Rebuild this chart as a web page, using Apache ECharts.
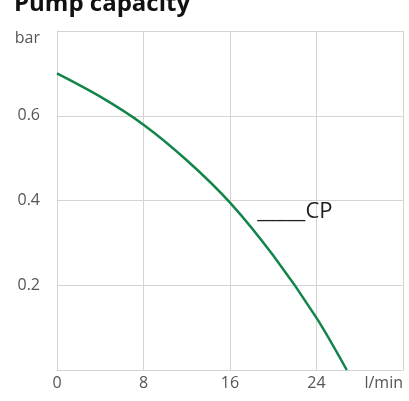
<!DOCTYPE html>
<html>
<head>
<meta charset="utf-8">
<script src="https://cdn.jsdelivr.net/npm/echarts@6/dist/echarts.min.js"></script>
<style>html,body{margin:0;padding:0;background:#fff;}#c{width:409px;height:401px;}</style>
</head>
<body>
<div id="c"></div>
<script>
const flowLpm = [0, 4, 8, 12, 16, 20, 24, 26.8];
const pressureBar = [0.70, 0.645, 0.579, 0.495, 0.395, 0.27, 0.123, 0];
const xTicks = [0, 8, 16, 24, 32];
const yTicks = [0, 0.2, 0.4, 0.6, 0.8];
const xUnit = 'l/min';
const yUnit = 'bar';
const seriesName = 'CP';

const chart = echarts.init(document.getElementById('c'));
const labelColor = '#555';
const gridColor = '#d4d4d4';
const font = 'Open Sans';
chart.setOption({
  animation: false,
  title: {
    text: 'Pump capacity', left: 9, top: -13,
    textStyle: {fontFamily: font, fontWeight: 'bold', fontSize: 24, color: '#111'}
  },
  grid: {left: 57, right: 6, top: 31, bottom: 31},
  xAxis: {
    type: 'value', min: 0, max: 32, interval: 8,
    axisLine: {lineStyle: {color: gridColor}},
    axisTick: {show: false},
    splitLine: {lineStyle: {color: gridColor}},
    axisLabel: {
      color: labelColor, fontFamily: font, fontSize: 16, margin: 5,
      alignMaxLabel: 'right',
      formatter: v => v === xTicks[xTicks.length - 1] ? xUnit : String(v)
    }
  },
  yAxis: {
    type: 'value', min: 0, max: 0.8, interval: 0.2,
    axisLine: {show: true, lineStyle: {color: gridColor}},
    axisTick: {show: false},
    splitLine: {lineStyle: {color: gridColor}},
    axisLabel: {
      color: labelColor, fontFamily: font, fontSize: 16, margin: 17,
      formatter: v => {
        if (Math.abs(v - yTicks[yTicks.length - 1]) < 1e-9) return '{u|' + yUnit + '}';
        if (v === 0) return '';
        return v.toFixed(1);
      },
      rich: {u: {color: labelColor, fontFamily: font, fontSize: 16, padding: [14, 0, 0, 0]}}
    }
  },
  series: [{
    name: seriesName,
    type: 'line',
    smooth: 0.3,
    showSymbol: false,
    data: flowLpm.map((x, i) => [x, pressureBar[i]]),
    lineStyle: {color: '#13844a', width: 2.5},
    markPoint: {
      symbol: 'rect', symbolSize: 0,
      data: [{coord: [22.0, 0.373], value: seriesName}],
      label: {
        show: true, formatter: '_____' + seriesName,
        color: '#222', fontFamily: font, fontSize: 22
      }
    }
  }]
});
</script>
</body>
</html>
